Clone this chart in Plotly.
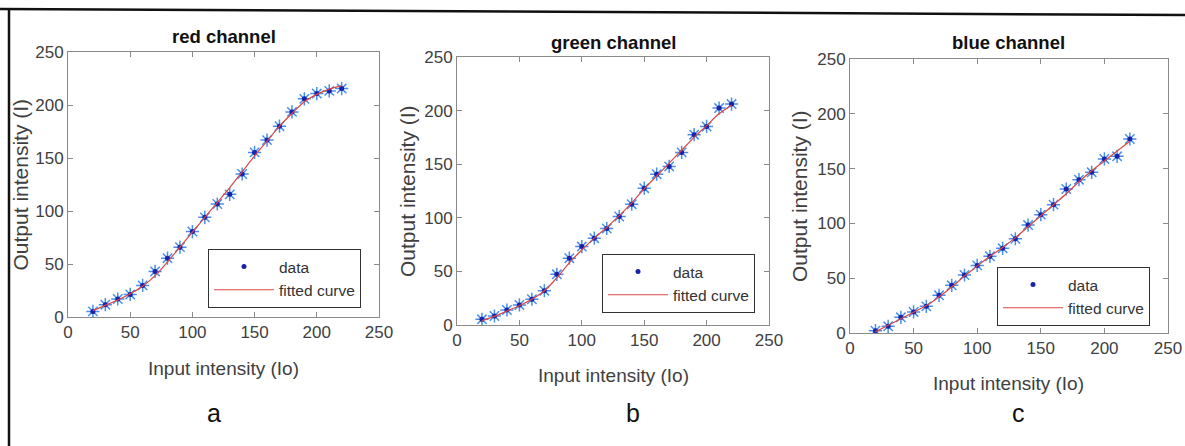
import plotly.graph_objects as go

W, H = 1185, 446

# ---------------- data ----------------
input_levels = [20, 30, 40, 50, 60, 70, 80, 90, 100, 110, 120, 130, 140, 150, 160, 170, 180, 190, 200, 210, 220]

red_data = [5.3, 11.6, 17, 21.3, 29.8, 43, 55.5, 65.9, 80.6, 94, 106.6, 115.7, 134.9, 155.3, 166.9, 180, 193.5, 205.8, 210.8, 213.3, 215.5]
red_fit = [6, 11, 16, 22, 29, 39, 52, 66, 80, 94, 108, 122, 137, 152, 166, 180, 192, 203, 210, 215, 218]

green_data = [5.3, 8.4, 14, 18.7, 24, 32, 47.3, 62.3, 73.2, 81, 90, 101.2, 112.7, 127.6, 140.7, 147.9, 161, 177.5, 185.2, 202.4, 206.1]
green_fit = [4, 8, 13, 18, 24, 32, 44, 58, 70, 81, 91, 102, 114, 127, 139, 151, 163, 175, 186, 197, 205]

blue_data = [2.1, 6.1, 14.3, 19.2, 24.3, 34.4, 43.5, 52.9, 61.7, 70, 77.3, 86, 98.5, 108, 117.1, 131.4, 139.9, 146.6, 158.8, 161.2, 177]
blue_fit = [1, 7, 13, 19, 25, 33, 42, 52, 61, 70, 78, 87, 97, 107, 117, 127, 138, 148, 157, 166, 175]

titles = ["red channel", "green channel", "blue channel"]
panel_letters = ["a", "b", "c"]
tick_vals = [0, 50, 100, 150, 200, 250]
x_label = "Input intensity (Io)"
y_label = "Output intensity (I)"
legend_names = ["data", "fitted curve"]

# ---------------- layout (pixels) ----------------
boxes = [(68, 379, 52, 317), (457, 769, 57, 325), (850, 1168, 59, 333)]
legend_pos = [(208, 249), (602, 254), (997, 267)]

REG = "Liberation Sans, Arial, sans-serif"
TICK_C = "#404040"
AX_C = "#8a8a8a"

def px_x(p):
    return p / W

def px_y(p):
    return 1 - p / H

fig = go.Figure()
series = [(red_data, red_fit), (green_data, green_fit), (blue_data, blue_fit)]
annotations = []
for i, ((d, f), (l, r, t, b)) in enumerate(zip(series, boxes)):
    n = "" if i == 0 else str(i + 1)
    xa, ya = "x" + n, "y" + n
    leg = "legend" + n
    fig.add_trace(go.Scatter(
        x=input_levels, y=d, mode="markers", xaxis=xa, yaxis=ya,
        marker=dict(symbol="asterisk-open", size=11, color="#4a90ea",
                    line=dict(color="#4a90ea", width=1.5)),
        showlegend=False, hoverinfo="skip"))
    fig.add_trace(go.Scatter(
        x=input_levels, y=d, mode="markers", xaxis=xa, yaxis=ya, name=legend_names[0],
        marker=dict(symbol="circle", size=5, color="#1a22a8"), legend=leg, legendrank=1))
    fig.add_trace(go.Scatter(
        x=input_levels, y=f, mode="lines", xaxis=xa, yaxis=ya, name=legend_names[1],
        line=dict(color="#d94848", width=1.2, shape="spline"), legend=leg, legendrank=2))

    axis_common = dict(range=[0, 250], tickvals=tick_vals, showgrid=False, zeroline=False,
                       showline=True, linecolor=AX_C, linewidth=1, mirror="ticks",
                       ticks="inside", ticklen=5, tickcolor=AX_C, automargin=False,
                       tickfont=dict(family=REG, size=17, color=TICK_C))
    fig.update_layout(**{
        "xaxis" + n: dict(domain=[px_x(l), px_x(r)], anchor=ya, **axis_common),
        "yaxis" + n: dict(domain=[px_y(b), px_y(t)], anchor=xa, **axis_common),
    })
    lx, ly = legend_pos[i]
    fig.update_layout(**{leg: dict(
        x=px_x(lx), y=px_y(ly), xanchor="left", yanchor="top",
        bgcolor="white", bordercolor="#333333", borderwidth=1,
        font=dict(family=REG, size=15.5, color="#333333"),
        itemwidth=60, tracegroupgap=0, traceorder="normal")})

    cx = (l + r) / 2
    annotations.append(dict(text="<b>" + titles[i] + "</b>", x=px_x(cx), y=px_y([36, 42, 42][i]),
                            xref="paper", yref="paper", showarrow=False,
                            xanchor="center", yanchor="middle",
                            font=dict(family=REG, size=18.5, color="#111111")))
    annotations.append(dict(text=x_label, x=px_x(cx), y=px_y([368, 375, 383][i]),
                            xref="paper", yref="paper", showarrow=False,
                            xanchor="center", yanchor="middle",
                            font=dict(family=REG, size=19, color=TICK_C)))
    annotations.append(dict(text=y_label, x=px_x([20, 407, 800][i]), y=px_y((t + b) / 2),
                            xref="paper", yref="paper", showarrow=False, textangle=-90,
                            xanchor="center", yanchor="middle",
                            font=dict(family=REG, size=21, color=TICK_C)))
    annotations.append(dict(text=panel_letters[i], x=px_x([214, 633, 1018][i]), y=px_y(413),
                            xref="paper", yref="paper", showarrow=False,
                            xanchor="center", yanchor="middle",
                            font=dict(family=REG, size=25, color="#111111")))

fig.update_layout(
    template="none",
    width=W, height=H, margin=dict(l=0, r=0, t=0, b=0, pad=0, autoexpand=False),
    paper_bgcolor="white", plot_bgcolor="white",
    annotations=annotations,
    shapes=[
        dict(type="line", xref="paper", yref="paper", x0=0, y0=px_y(9), x1=1, y1=px_y(15),
             line=dict(color="#111111", width=2.5)),
        dict(type="line", xref="paper", yref="paper", x0=px_x(9), y0=px_y(10), x1=px_x(9), y1=0,
             line=dict(color="#111111", width=2.5)),
    ],
)

fig.write_html("out.html", config={"displayModeBar": False},
               post_script="document.body.style.margin='0';document.body.style.overflow='hidden';")
